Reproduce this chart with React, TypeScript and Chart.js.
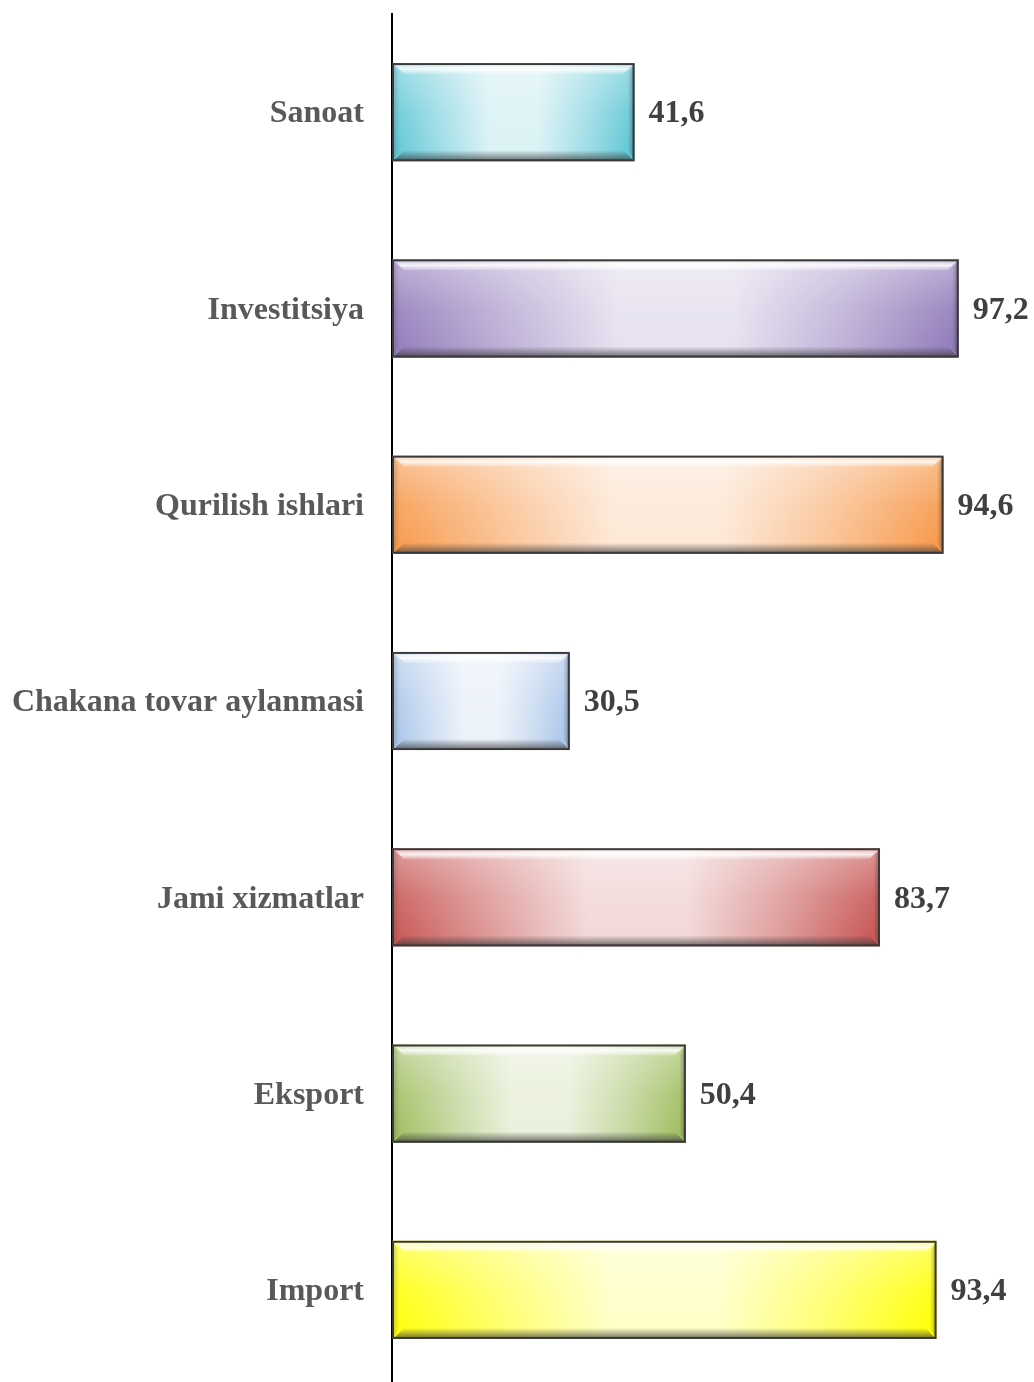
import { useEffect, useRef } from "react";
import { Chart, registerables } from "chart.js";

Chart.register(...registerables);

const categories = [
  "Sanoat",
  "Investitsiya",
  "Qurilish ishlari",
  "Chakana tovar aylanmasi",
  "Jami xizmatlar",
  "Eksport",
  "Import",
];
const values = [41.6, 97.2, 94.6, 30.5, 83.7, 50.4, 93.4];
const valueLabels = ["41,6", "97,2", "94,6", "30,5", "83,7", "50,4", "93,4"];
const barColors = ["#58c4d4", "#8e76b8", "#f79646", "#a4c2e8", "#c5504e", "#9bbb59", "#ffff00"];

const FONT = '"Liberation Serif", "Times New Roman", serif';

const bevelPlugin = {
  id: "bevel",
  afterDatasetsDraw(chart: any) {
    const ctx: CanvasRenderingContext2D = chart.ctx;
    const meta = chart.getDatasetMeta(0);
    meta.data.forEach((el: any, i: number) => {
      const { x, y, base, height } = el.getProps(["x", "y", "base", "height"], true);
      const l = Math.min(base, x) + 1;
      const r = Math.max(base, x);
      const t = y - height / 2;
      const b = y + height / 2;
      const w = r - l;
      const h = b - t;
      ctx.save();
      // horizontal glow
      let g = ctx.createLinearGradient(l, 0, r, 0);
      g.addColorStop(0, "rgba(255,255,255,0.03)");
      g.addColorStop(0.2, "rgba(255,255,255,0.42)");
      g.addColorStop(0.4, "rgba(255,255,255,0.78)");
      g.addColorStop(0.6, "rgba(255,255,255,0.78)");
      g.addColorStop(0.8, "rgba(255,255,255,0.42)");
      g.addColorStop(1, "rgba(255,255,255,0.0)");
      ctx.fillStyle = g;
      ctx.fillRect(l, t, w, h);
      // vertical light
      g = ctx.createLinearGradient(0, t, 0, b);
      g.addColorStop(0, "rgba(255,255,255,0.4)");
      g.addColorStop(0.5, "rgba(255,255,255,0.12)");
      g.addColorStop(1, "rgba(255,255,255,0)");
      ctx.fillStyle = g;
      ctx.fillRect(l, t, w, h);
      const bv = 11;
      // top bevel
      ctx.beginPath();
      ctx.moveTo(l, t);
      ctx.lineTo(r, t);
      ctx.lineTo(r - bv, t + bv);
      ctx.lineTo(l + bv, t + bv);
      ctx.closePath();
      g = ctx.createLinearGradient(0, t, 0, t + bv);
      g.addColorStop(0, "rgba(255,255,255,0.1)");
      g.addColorStop(0.55, "rgba(255,255,255,0.85)");
      g.addColorStop(1, "rgba(255,255,255,0.15)");
      ctx.fillStyle = g;
      ctx.fill();
      // bottom bevel
      ctx.beginPath();
      ctx.moveTo(l, b);
      ctx.lineTo(r, b);
      ctx.lineTo(r - bv, b - bv);
      ctx.lineTo(l + bv, b - bv);
      ctx.closePath();
      g = ctx.createLinearGradient(0, b - bv, 0, b);
      g.addColorStop(0, "rgba(60,60,60,0)");
      g.addColorStop(1, "rgba(60,60,60,0.75)");
      ctx.fillStyle = g;
      ctx.fill();
      // left bevel
      ctx.beginPath();
      ctx.moveTo(l, t);
      ctx.lineTo(l + bv * 0.6, t + bv);
      ctx.lineTo(l + bv * 0.6, b - bv);
      ctx.lineTo(l, b);
      ctx.closePath();
      g = ctx.createLinearGradient(l, 0, l + bv * 0.6, 0);
      g.addColorStop(0, "rgba(40,40,40,0.2)");
      g.addColorStop(1, "rgba(40,40,40,0)");
      ctx.fillStyle = g;
      ctx.fill();
      // right bevel
      ctx.beginPath();
      ctx.moveTo(r, t);
      ctx.lineTo(r - bv * 0.6, t + bv);
      ctx.lineTo(r - bv * 0.6, b - bv);
      ctx.lineTo(r, b);
      ctx.closePath();
      g = ctx.createLinearGradient(r, 0, r - bv * 0.6, 0);
      g.addColorStop(0, "rgba(40,40,40,0.4)");
      g.addColorStop(1, "rgba(40,40,40,0)");
      ctx.fillStyle = g;
      ctx.fill();
      // border
      ctx.strokeStyle = "#3a3a3a";
      ctx.lineWidth = 2;
      ctx.strokeRect(l, t + 1, w - 1, h - 2);
      // value label
      ctx.fillStyle = "#404040";
      ctx.font = `bold 32px ${FONT}`;
      ctx.textAlign = "left";
      ctx.textBaseline = "middle";
      ctx.fillText(valueLabels[i], r + 14, y + 2);
      ctx.restore();
    });
  },
};

export default function App() {
  const ref = useRef<HTMLCanvasElement | null>(null);
  useEffect(() => {
    const canvas = ref.current;
    if (!canvas) return;
    const chart = new Chart(canvas, {
      type: "bar",
      data: {
        labels: categories,
        datasets: [
          {
            data: values,
            backgroundColor: barColors,
            borderWidth: 0,
            barPercentage: 0.5,
            categoryPercentage: 1,
          },
        ],
      },
      options: {
        indexAxis: "y",
        responsive: false,
        devicePixelRatio: 1,
        animation: false,
        layout: { padding: { left: 0, right: 59, top: 14, bottom: 4 } },
        plugins: { legend: { display: false }, tooltip: { enabled: false } },
        scales: {
          x: {
            min: 0,
            max: 100,
            display: false,
            grid: { display: false },
          },
          y: {
            grid: { display: false, drawTicks: false },
            border: { display: true, color: "#000000", width: 2 },
            ticks: {
              padding: 28,
              labelOffset: 2,
              color: "#595959",
              font: { family: FONT, size: 32, weight: "bold" },
            },
            afterFit: (axis: any) => {
              axis.width = 392;
              axis.paddingTop = 0;
              axis.paddingBottom = 0;
            },
          },
        },
      },
      plugins: [bevelPlugin],
    });
    return () => chart.destroy();
  }, []);
  return (
    <div
      style={{
        position: "fixed",
        left: 0,
        top: 0,
        width: 1034,
        height: 1382,
        overflow: "hidden",
        background: "#ffffff",
      }}
    >
      <canvas ref={ref} width={1034} height={1392} style={{ display: "block" }} />
    </div>
  );
}
